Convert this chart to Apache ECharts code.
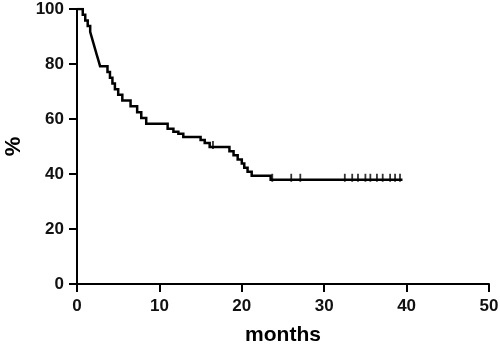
<!DOCTYPE html>
<html>
<head>
<meta charset="utf-8">
<script src="https://cdn.jsdelivr.net/npm/echarts@6/dist/echarts.min.js"></script>
<style>html,body{margin:0;padding:0;background:#fff;}#c{width:500px;height:344px;}</style>
</head>
<body>
<div id="c"></div>
<script>
// Kaplan-Meier steps: event time (months) and survival (%) after the event
var stepMonths = [0, 0.7, 1.0, 1.3, 1.6, 1.8, 2.0, 2.2, 2.4, 2.6, 2.8, 3.7, 4.0, 4.3, 4.6, 5.0, 5.5, 6.5, 7.3, 7.8, 8.4, 11.0, 11.7, 12.3, 12.9, 15.0, 15.5, 16.1, 18.5, 19.0, 19.5, 20.0, 20.3, 20.7, 21.2, 23.5, 39.5];
var stepSurvival = [100, 97.9, 95.8, 93.8, 91.7, 89.6, 87.5, 85.4, 83.3, 81.3, 79.2, 77.1, 75.0, 72.9, 70.8, 68.8, 66.7, 64.6, 62.5, 60.4, 58.3, 56.5, 55.4, 54.6, 53.5, 52.4, 51.3, 49.8, 48.3, 46.8, 45.3, 43.8, 42.3, 40.8, 39.4, 37.9, 37.9];
// censored observations
var censorMonths = [16.5, 23.7, 26.0, 27.1, 32.5, 33.4, 34.1, 35.0, 35.6, 36.4, 37.1, 38.0, 38.6, 39.2];
var censorSurvival = [49.8, 37.9, 37.9, 37.9, 37.9, 37.9, 37.9, 37.9, 37.9, 37.9, 37.9, 37.9, 37.9, 37.9];
var xTicks = [0, 10, 20, 30, 40, 50];
var yTicks = [0, 20, 40, 60, 80, 100];

// expand into a staircase (horizontal then vertical at each event)
var curve = [[stepMonths[0], stepSurvival[0]]];
for (var i = 1; i < stepMonths.length; i++) {
  curve.push([stepMonths[i], stepSurvival[i - 1]]);
  curve.push([stepMonths[i], stepSurvival[i]]);
}
var censors = censorMonths.map(function (m, i) { return [m, censorSurvival[i]]; });

var chart = echarts.init(document.getElementById('c'), null, {renderer: 'canvas'});
var font = 'Liberation Sans, Arial, sans-serif';
chart.setOption({
  animation: false,
  backgroundColor: '#fff',
  grid: {left: 77, right: 11, top: 9, bottom: 60, containLabel: false, outerBoundsMode: 'none'},
  xAxis: {
    type: 'value', min: xTicks[0], max: xTicks[xTicks.length - 1], interval: 10,
    name: 'months', nameLocation: 'middle', nameGap: 41,
    nameTextStyle: {fontFamily: font, fontWeight: 'bold', fontSize: 21, color: '#000'},
    axisLine: {lineStyle: {color: '#000', width: 2}},
    axisTick: {show: true, inside: false, length: 8, lineStyle: {color: '#000', width: 2}},
    axisLabel: {fontFamily: font, fontWeight: 'bold', fontSize: 17, color: '#111', margin: 14},
    splitLine: {show: false}
  },
  yAxis: {
    type: 'value', min: yTicks[0], max: yTicks[yTicks.length - 1], interval: 20,
    name: '%', nameLocation: 'middle', nameGap: 52, nameRotate: 90,
    nameTextStyle: {fontFamily: font, fontWeight: 'bold', fontSize: 22, color: '#000'},
    axisLine: {show: true, lineStyle: {color: '#000', width: 2}},
    axisTick: {show: true, inside: false, length: 8, lineStyle: {color: '#000', width: 2}},
    axisLabel: {fontFamily: font, fontWeight: 'bold', fontSize: 17, color: '#111', margin: 13},
    splitLine: {show: false}
  },
  series: [
    {
      type: 'line', data: curve, symbol: 'none', sampling: null,
      lineStyle: {color: '#000', width: 2.5, join: 'miter'}, z: 3
    },
    {
      type: 'scatter', data: censors, symbol: 'rect', symbolSize: [1.8, 8], symbolOffset: [0, -2],
      itemStyle: {color: '#000'}, z: 4
    }
  ]
});
</script>
</body>
</html>
